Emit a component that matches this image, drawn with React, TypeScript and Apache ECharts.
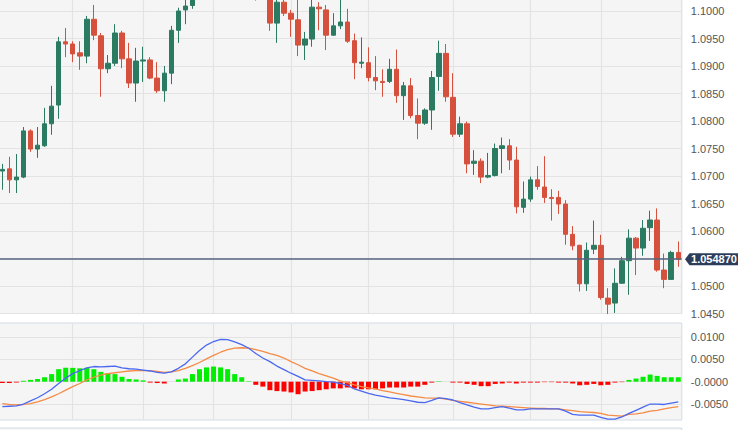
import React, { useEffect, useRef } from 'react';
import * as echarts from 'echarts';

const opens = [1.0709,1.0713,1.0693,1.0698,1.0782,1.0749,1.0755,1.0795,1.0829,1.0944,1.0940,1.0924,1.0918,1.0985,1.0955,1.0895,1.0905,1.0960,1.0913,1.0869,1.0909,1.0911,1.0878,1.0855,1.0887,1.0965,1.1002,1.1010,1.1035,1.1060,1.1085,1.1072,1.1098,1.1080,1.1065,1.1074,1.1050,1.1038,1.1045,1.0978,1.1016,1.0996,1.0984,1.0938,1.0949,1.1007,1.1002,1.0956,1.0973,1.0980,1.0946,1.0905,1.0906,1.0879,1.0872,1.0872,1.0894,1.0846,1.0864,1.0810,1.0796,1.0820,1.0881,1.0923,1.0843,1.0776,1.0795,1.0723,1.0727,1.0698,1.0701,1.0750,1.0755,1.0729,1.0643,1.0658,1.0693,1.0680,1.0661,1.0661,1.0649,1.0594,1.0574,1.0504,1.0567,1.0574,1.0478,1.0469,1.0505,1.0546,1.0587,1.0569,1.0606,1.0620,1.0529,1.0512,1.0561];
const closes = [1.0712,1.0693,1.0698,1.0782,1.0749,1.0756,1.0795,1.0827,1.0944,1.0940,1.0922,1.0918,1.0985,1.0956,1.0895,1.0905,1.0960,1.0913,1.0869,1.0909,1.0911,1.0878,1.0855,1.0887,1.0965,1.1000,1.1009,1.1035,1.1060,1.1085,1.1072,1.1098,1.1080,1.1065,1.1074,1.1050,1.1038,1.1045,1.0978,1.1016,1.0996,1.0985,1.0938,1.0949,1.1007,1.1004,1.0956,1.0973,1.0980,1.0945,1.0906,1.0907,1.0879,1.0873,1.0870,1.0894,1.0846,1.0864,1.0810,1.0796,1.0820,1.0879,1.0923,1.0844,1.0776,1.0795,1.0722,1.0727,1.0698,1.0701,1.0750,1.0755,1.0729,1.0644,1.0658,1.0693,1.0681,1.0661,1.0659,1.0649,1.0594,1.0573,1.0504,1.0565,1.0574,1.0479,1.0467,1.0505,1.0546,1.0587,1.0569,1.0605,1.0620,1.0529,1.0512,1.0561,1.05487];
const lows = [1.0675,1.0669,1.0669,1.0696,1.0744,1.0733,1.0753,1.0775,1.0804,1.0916,1.0907,1.0893,1.0905,1.0947,1.0844,1.0887,1.0900,1.0896,1.0860,1.0835,1.0871,1.0876,1.0851,1.0835,1.0867,1.0942,1.0976,1.1004,1.1028,1.1050,1.1062,1.1065,1.1070,1.1055,1.1048,1.1040,1.1019,1.1025,1.0964,1.0942,1.0991,1.0953,1.0918,1.0911,1.0935,1.0965,1.0929,1.0955,1.0967,1.0942,1.0876,1.0896,1.0872,1.0856,1.0844,1.0869,1.0833,1.0802,1.0805,1.0767,1.0793,1.0784,1.0855,1.0835,1.0771,1.0771,1.0705,1.0702,1.0687,1.0696,1.0699,1.0705,1.0711,1.0632,1.0633,1.0653,1.0675,1.0651,1.0619,1.0631,1.0575,1.0565,1.0490,1.0491,1.0558,1.0475,1.0449,1.0451,1.0504,1.0484,1.0520,1.0555,1.0582,1.0526,1.0496,1.0511,1.0535];
const highs = [1.0722,1.0735,1.0740,1.0789,1.0785,1.0789,1.0824,1.0864,1.0953,1.0969,1.0945,1.0945,1.0991,1.1011,1.0960,1.0920,1.0976,1.0964,1.0942,1.0933,1.0935,1.0916,1.0907,1.0900,1.0973,1.1006,1.1030,1.1045,1.1068,1.1095,1.1100,1.1110,1.1115,1.1092,1.1088,1.1082,1.1060,1.1060,1.1050,1.1025,1.1022,1.1002,1.1020,1.0962,1.1020,1.1016,1.1011,1.0996,1.1025,1.1004,1.0959,1.0952,1.0934,1.0918,1.0894,1.0913,1.0930,1.0871,1.0878,1.0841,1.0823,1.0891,1.0946,1.0940,1.0887,1.0808,1.0799,1.0747,1.0732,1.0742,1.0759,1.0770,1.0767,1.0753,1.0690,1.0699,1.0718,1.0736,1.0676,1.0673,1.0656,1.0609,1.0575,1.0579,1.0619,1.0593,1.0496,1.0532,1.0553,1.0603,1.0589,1.0620,1.0637,1.0641,1.0559,1.0564,1.0581];

const macdLine = [-0.0056,-0.0055,-0.0054,-0.0050,-0.0043,-0.0036,-0.0027,-0.0017,-0.0004,0.0008,0.0018,0.0025,0.0031,0.0034,0.0033,0.0034,0.0035,0.0031,0.0029,0.0028,0.0026,0.0024,0.0021,0.0019,0.0022,0.0030,0.0040,0.0055,0.0070,0.0082,0.0090,0.0095,0.0094,0.0089,0.0083,0.0075,0.0063,0.0053,0.0045,0.0035,0.0027,0.0019,0.0012,0.0004,0.0003,0.0002,0.0000,-0.0001,-0.0004,-0.0008,-0.0016,-0.0021,-0.0026,-0.0030,-0.0033,-0.0036,-0.0038,-0.0040,-0.0043,-0.0046,-0.0047,-0.0042,-0.0036,-0.0038,-0.0041,-0.0047,-0.0052,-0.0057,-0.0061,-0.0061,-0.0058,-0.0056,-0.0059,-0.0063,-0.0063,-0.0061,-0.0061,-0.0061,-0.0061,-0.0061,-0.0066,-0.0073,-0.0075,-0.0075,-0.0075,-0.0080,-0.0084,-0.0084,-0.0079,-0.0071,-0.0064,-0.0057,-0.0050,-0.0050,-0.0051,-0.0048,-0.0045];
const signalLine = [-0.0049,-0.0051,-0.0052,-0.0051,-0.0049,-0.0045,-0.0040,-0.0034,-0.0027,-0.0019,-0.0011,-0.0004,0.0004,0.0010,0.0015,0.0018,0.0020,0.0022,0.0024,0.0025,0.0025,0.0025,0.0023,0.0021,0.0022,0.0025,0.0030,0.0036,0.0043,0.0051,0.0059,0.0066,0.0072,0.0075,0.0076,0.0075,0.0072,0.0068,0.0063,0.0059,0.0053,0.0045,0.0038,0.0030,0.0024,0.0018,0.0013,0.0008,0.0002,-0.0002,-0.0007,-0.0011,-0.0014,-0.0016,-0.0020,-0.0023,-0.0026,-0.0029,-0.0032,-0.0034,-0.0036,-0.0037,-0.0037,-0.0039,-0.0042,-0.0044,-0.0046,-0.0048,-0.0050,-0.0052,-0.0054,-0.0055,-0.0056,-0.0057,-0.0058,-0.0059,-0.0060,-0.0060,-0.0061,-0.0061,-0.0063,-0.0065,-0.0067,-0.0068,-0.0069,-0.0071,-0.0075,-0.0076,-0.0077,-0.0073,-0.0072,-0.0070,-0.0066,-0.0064,-0.0061,-0.0058,-0.0056];
const histogram = [-0.0003,-0.0003,-0.0002,0.0002,0.0004,0.0006,0.0010,0.0017,0.0028,0.0031,0.0031,0.0030,0.0031,0.0028,0.0022,0.0019,0.0017,0.0011,0.0006,0.0005,0.0003,-0.0002,-0.0003,-0.0004,0.0000,0.0005,0.0007,0.0017,0.0028,0.0032,0.0034,0.0032,0.0028,0.0017,0.0010,0.0001,-0.0007,-0.0011,-0.0019,-0.0021,-0.0022,-0.0024,-0.0028,-0.0022,-0.0021,-0.0019,-0.0017,-0.0015,-0.0015,-0.0013,-0.0015,-0.0017,-0.0017,-0.0017,-0.0015,-0.0013,-0.0013,-0.0013,-0.0011,-0.0011,-0.0007,-0.0002,0.0001,0.0000,-0.0002,-0.0002,-0.0005,-0.0007,-0.0010,-0.0010,-0.0005,-0.0004,-0.0002,-0.0004,-0.0002,-0.0002,-0.0002,-0.0001,-0.0001,-0.0002,-0.0002,-0.0004,-0.0008,-0.0007,-0.0005,-0.0008,-0.0007,-0.0002,-0.0001,0.0004,0.0007,0.0011,0.0016,0.0013,0.0010,0.0010,0.0010];

const verticalGridIdx = [10, 20, 30, 41, 52, 64, 75, 85];
const lastPrice = 1.05487;
const hiddenPriceLabels = ['1.0550', '1.1050'];

const FONT = "'Liberation Sans', Arial, sans-serif";
const UP = '#2b7a62';
const DOWN = '#d6513d';
const GRID_BG = '#f5f5f5';
const GRID_BORDER = '#d3dae4';
const SPLIT = '#e3e3e3';

export default function App() {
  const ref = useRef<HTMLDivElement>(null);
  useEffect(() => {
    const chart = echarts.init(ref.current!, null, { renderer: 'svg' });
    const categories = opens.map((_, i) => 'c' + i);
    const ohlc = opens.map((o, i) => [o, closes[i], lows[i], highs[i]]);
    const vLines = {
      z: 1,
      silent: true,
      symbol: ['none', 'none'],
      label: { show: false },
      lineStyle: { color: SPLIT, type: 'solid', width: 1.2 },
      data: verticalGridIdx.map((i) => ({ xAxis: i })),
    };
    const gridPos = { left: -1.2, width: 683, outerBoundsMode: 'none', containLabel: false };
    const hiddenCat = (gridIndex: number) => ({
      type: 'category', gridIndex, data: categories, boundaryGap: true,
      axisLine: { show: false }, axisTick: { show: false }, axisLabel: { show: false }, splitLine: { show: false },
    });
    const option: any = {
      animation: false,
      backgroundColor: '#ffffff',
      grid: [
        { ...gridPos, top: -16.5, height: 330, show: true, backgroundColor: GRID_BG, borderColor: GRID_BORDER, borderWidth: 1 },
        { ...gridPos, top: 323, height: 97, show: true, backgroundColor: GRID_BG, borderColor: GRID_BORDER, borderWidth: 1 },
        { ...gridPos, top: 428, height: 40, show: true, backgroundColor: GRID_BG, borderColor: GRID_BORDER, borderWidth: 1 },
      ],
      xAxis: [hiddenCat(0), hiddenCat(1), hiddenCat(2)],
      yAxis: [
        {
          type: 'value', gridIndex: 0, position: 'right', min: 1.045, max: 1.105, interval: 0.005,
          axisLine: { show: false }, axisTick: { show: false },
          axisLabel: {
            color: '#555', fontSize: 11, fontFamily: FONT, margin: 9,
            formatter: (v: number) => (hiddenPriceLabels.includes(v.toFixed(4)) ? '' : v.toFixed(4)),
          },
          splitLine: { lineStyle: { color: SPLIT, width: 1.2 } },
        },
        {
          type: 'value', gridIndex: 1, position: 'right', min: -0.008576, max: 0.013144,
          minInterval: 0.005, maxInterval: 0.005,
          axisLine: { show: false }, axisTick: { show: false },
          axisLabel: {
            color: '#555', fontSize: 11, fontFamily: FONT, margin: 9, showMinLabel: false, showMaxLabel: false,
            formatter: (v: number) => (Math.abs(v) < 1e-9 ? '-0.0000' : v.toFixed(4)),
          },
          splitLine: { showMinLine: false, showMaxLine: false, lineStyle: { color: SPLIT, width: 1.2 } },
        },
        { type: 'value', gridIndex: 2, min: 0, max: 1, show: false },
      ],
      series: [
        {
          type: 'candlestick', xAxisIndex: 0, yAxisIndex: 0, data: ohlc, barWidth: 5,
          itemStyle: { color: UP, color0: DOWN, borderColor: UP, borderColor0: DOWN, borderWidth: 1 },
          markLine: vLines,
        },
        {
          type: 'line', xAxisIndex: 0, yAxisIndex: 0, data: [], symbol: 'none',
          markLine: {
            z: 6, silent: true, symbol: ['none', 'none'], label: { show: false }, precision: 6,
            lineStyle: { color: '#56657f', type: 'solid', width: 1.6 },
            data: [{ yAxis: lastPrice }],
          },
        },
        {
          type: 'bar', xAxisIndex: 1, yAxisIndex: 1, data: histogram, barWidth: 5,
          itemStyle: { color: (p: any) => (p.value >= 0 ? '#00ee00' : '#ff0000') },
          markLine: vLines,
        },
        {
          type: 'line', xAxisIndex: 1, yAxisIndex: 1, data: signalLine, symbol: 'none',
          lineStyle: { color: '#f58b45', width: 1.3 },
        },
        {
          type: 'line', xAxisIndex: 1, yAxisIndex: 1, data: macdLine, symbol: 'none',
          lineStyle: { color: '#4a68f0', width: 1.3 },
        },
      ],
    };
    chart.setOption(option);
    const y = chart.convertToPixel({ yAxisIndex: 0 }, lastPrice) as number;
    chart.setOption({
      graphic: [
        {
          type: 'polygon', z: 100,
          shape: { points: [[685, y], [689.5, y - 6], [738, y - 6], [738, y + 6], [689.5, y + 6]] },
          style: { fill: '#2c3d5c' },
        },
        {
          type: 'text', z: 101, x: 714, y,
          style: { text: lastPrice.toFixed(6), fill: '#ffffff', font: `bold 11px ${FONT}`, align: 'center', verticalAlign: 'middle' },
        },
      ],
    });
    return () => chart.dispose();
  }, []);
  return <div ref={ref} style={{ position: 'absolute', left: 0, top: 0, width: 750, height: 430 }} />;
}
